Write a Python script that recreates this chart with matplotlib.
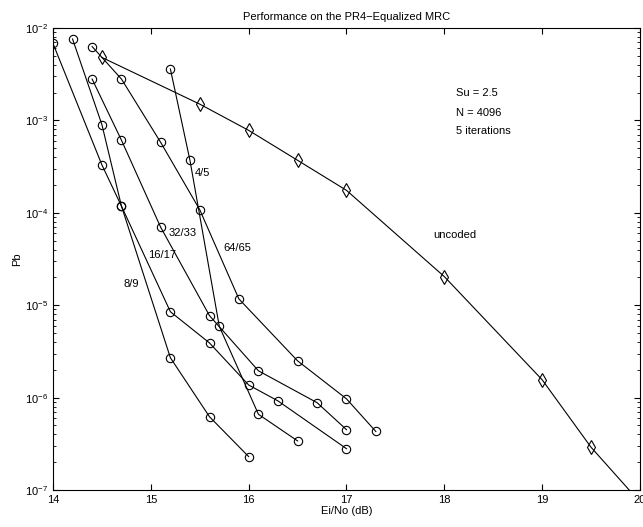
import matplotlib
matplotlib.use("Agg")
import matplotlib.pyplot as plt

plt.rcParams['font.family'] = ['Liberation Sans', 'DejaVu Sans']
plt.rcParams['font.size'] = 8

# courbes (Ei/No en dB, Pb)
x_89 = [14.2, 14.5, 14.7, 15.2, 15.6, 16.0]
y_89 = [7.6e-3, 9.0e-4, 1.18e-4, 2.7e-6, 6.2e-7, 2.3e-7]

x_1617 = [14.0, 14.5, 14.7, 15.2, 15.6, 16.0, 16.3, 17.0]
y_1617 = [6.8e-3, 3.3e-4, 1.18e-4, 8.5e-6, 3.9e-6, 1.37e-6, 9.2e-7, 2.8e-7]

x_3233 = [14.4, 14.7, 15.1, 15.6, 16.1, 16.7, 17.0]
y_3233 = [2.8e-3, 6.1e-4, 7.0e-5, 7.7e-6, 1.95e-6, 8.8e-7, 4.5e-7]

x_6465 = [14.4, 14.7, 15.1, 15.5, 15.9, 16.5, 17.0, 17.3]
y_6465 = [6.3e-3, 2.8e-3, 5.8e-4, 1.08e-4, 1.17e-5, 2.5e-6, 9.7e-7, 4.3e-7]

x_45 = [15.2, 15.4, 15.7, 16.1, 16.5]
y_45 = [3.6e-3, 3.7e-4, 5.9e-6, 6.6e-7, 3.4e-7]

x_unc = [14.5, 15.5, 16.0, 16.5, 17.0, 18.0, 19.0, 19.5, 20.0]
y_unc = [4.8e-3, 1.5e-3, 7.8e-4, 3.7e-4, 1.75e-4, 2.04e-5, 1.56e-6, 2.9e-7, 7.4e-8]

fig = plt.figure(figsize=(6.43, 5.27), dpi=100)
ax = fig.add_axes([0.0824, 0.0702, 0.9129, 0.8767])

for xs, ys in [(x_89, y_89), (x_1617, y_1617), (x_3233, y_3233),
               (x_6465, y_6465), (x_45, y_45)]:
    ax.plot(xs, ys, color='black', linewidth=0.8, marker='o', markersize=6,
            markerfacecolor='none', markeredgewidth=0.8)
ax.plot(x_unc, y_unc, color='black', linewidth=0.8, marker='d', markersize=7,
        markerfacecolor='none', markeredgewidth=0.8)

ax.set_yscale('log')
ax.set_xlim(14, 20)
ax.set_ylim(1e-7, 1e-2)
ax.set_xticks([14, 15, 16, 17, 18, 19, 20])
ax.tick_params(which='both', direction='in', top=True, right=True, labelsize=8)
ax.tick_params(which='major', length=4)
ax.tick_params(which='minor', length=2)

ax.text(15.45, 2.67e-4, '4/5', va='center')
ax.text(15.74, 4.2e-5, '64/65', va='center')
ax.text(15.18, 6.0e-5, '32/33', va='center')
ax.text(14.97, 3.45e-5, '16/17', va='center')
ax.text(14.72, 1.71e-5, '8/9', va='center')
ax.text(17.89, 5.7e-5, 'uncoded', va='center')
ax.text(18.12, 2.0e-3, 'Su = 2.5', va='center')
ax.text(18.12, 1.2e-3, 'N = 4096', va='center')
ax.text(18.12, 7.6e-4, '5 iterations', va='center')

ax.set_title('Performance on the PR4\u2212Equalized MRC', fontsize=8, pad=6)
ax.set_xlabel('Ei/No (dB)', labelpad=1)
ax.set_ylabel('Pb', labelpad=2)

plt.savefig('out.png', dpi=100)
